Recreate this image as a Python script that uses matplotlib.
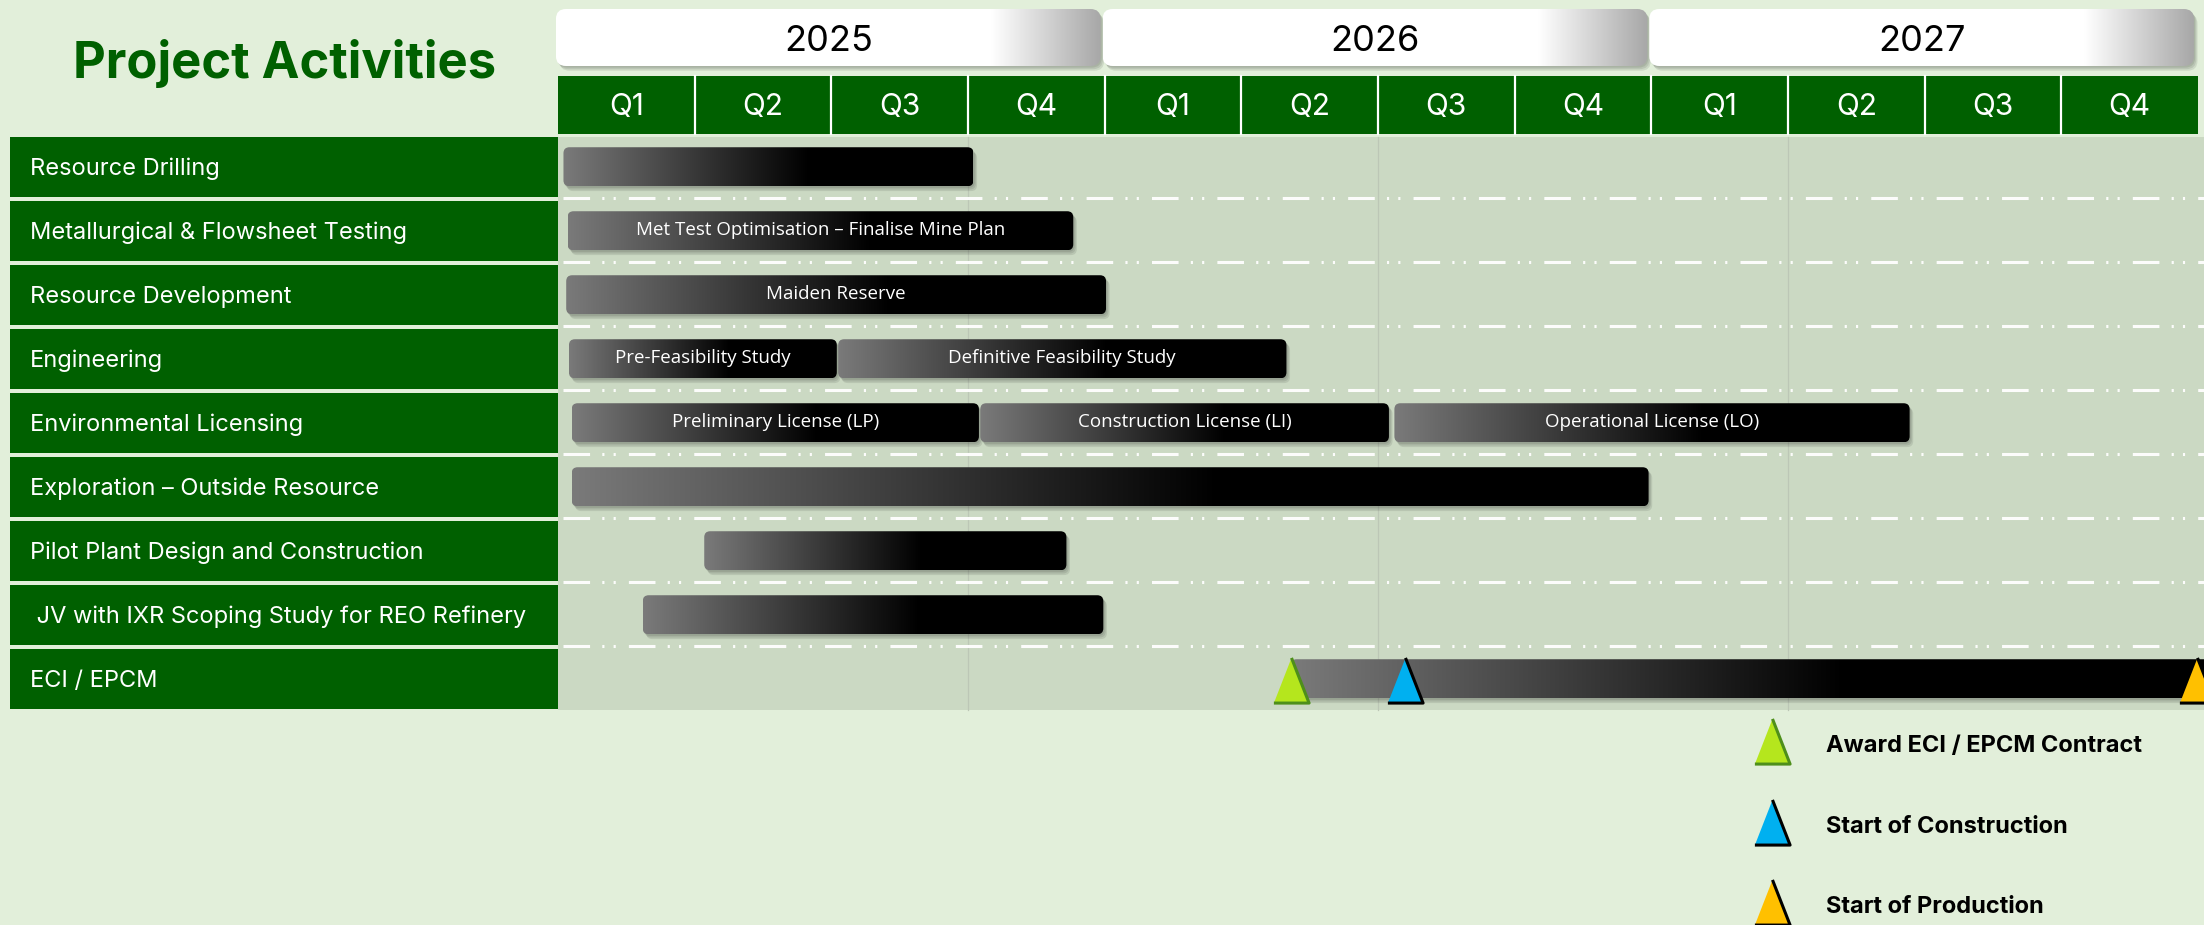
import matplotlib
matplotlib.use("Agg")
import matplotlib.pyplot as plt
import numpy as np
from matplotlib.patches import Rectangle, FancyBboxPatch
from matplotlib.colors import to_rgb

plt.rcParams["font.family"] = ["Inter", "DejaVu Sans"]

## chart data

TITLE = "Project Activities"
YEARS = ["2025", "2026", "2027"]
QUARTERS = ["Q1", "Q2", "Q3", "Q4"]
ACTIVITIES = [
    "Resource Drilling",
    "Metallurgical & Flowsheet Testing",
    "Resource Development",
    "Engineering",
    "Environmental Licensing",
    "Exploration – Outside Resource",
    "Pilot Plant Design and Construction",
    " JV with IXR Scoping Study for REO Refinery",
    "ECI / EPCM",
]

# one entry per bar: activity row, start and end in quarters counted from Q1 2025
BAR_ROW = [0, 1, 2, 3, 3, 4, 4, 4, 5, 6, 7, 8]
BAR_START = [0.04, 0.07, 0.06, 0.08, 2.05, 0.10, 3.09, 6.12, 0.10, 1.07, 0.62, 5.36]
BAR_END = [3.04, 3.77, 4.01, 2.04, 5.33, 3.08, 6.08, 9.89, 7.98, 3.72, 3.99, 12.10]
BAR_TEXT = [
    "",
    "Met Test Optimisation – Finalise Mine Plan",
    "Maiden Reserve",
    "Pre-Feasibility Study",
    "Definitive Feasibility Study",
    "Preliminary License (LP)",
    "Construction License (LI)",
    "Operational License (LO)",
    "",
    "",
    "",
    "",
]

MILESTONES = ["Award ECI / EPCM Contract", "Start of Construction", "Start of Production"]
MILESTONE_ROW = [8, 8, 8]
MILESTONE_AT = [5.36, 6.20, 11.99]

## styling / layout

BG = "#E2EFDA"
CHART_BG = "#CBD9C3"
GREEN = "#006000"
MS_FILL = ["#B5E61D", "#00B0F0", "#FFC000"]
MS_EDGE = ["#4E8F1A", "#000000", "#000000"]

W_PX, H_PX = 2204, 925
Q_PX = 1640 / 12      # width of one quarter
ROW_PX = 64           # row pitch
X0_PX, Y0_PX = 558, 137


def px_x(px):
    return (px - X0_PX) / Q_PX


def px_y(py):
    return (py - Y0_PX) / ROW_PX


fig = plt.figure(figsize=(W_PX / 100, H_PX / 100), dpi=100, facecolor=BG)
ax = fig.add_axes([0, 0, 1, 1])
ax.set_autoscale_on(False)
ax.set_xlim(px_x(0), px_x(W_PX))
ax.set_ylim(px_y(H_PX), px_y(0))
ax.axis("off")

ASPECT = Q_PX / ROW_PX
TRI = [(-0.39, -0.5), (0.39, -0.5), (0.0, 0.5)]


def gradient_box(x0, x1, y0, y1, pos, cols, radius_px, z, shadow=True):
    r = radius_px / Q_PX
    style = f"round,pad=0,rounding_size={r}"
    if shadow:
        for k in range(1, 4):
            sh = FancyBboxPatch((x0 + 1.2 * k / Q_PX, y0 + 1.6 * k / ROW_PX), x1 - x0, y1 - y0,
                                boxstyle=style, mutation_aspect=ASPECT,
                                facecolor="black", edgecolor="none", alpha=0.09, zorder=z - 0.5)
            ax.add_patch(sh)
    box = FancyBboxPatch((x0, y0), x1 - x0, y1 - y0, boxstyle=style, mutation_aspect=ASPECT,
                         facecolor="none", edgecolor="none", zorder=z)
    ax.add_patch(box)
    t = np.linspace(0, 1, 256)
    rgb = np.array([to_rgb(c) for c in cols])
    grad = np.empty((1, 256, 3))
    for c in range(3):
        grad[0, :, c] = np.interp(t, pos, rgb[:, c])
    im = ax.imshow(grad, extent=(x0, x1, y1, y0), aspect="auto", interpolation="bilinear", zorder=z)
    im.set_clip_path(box)


# title
ax.text(px_x(285), px_y(78), TITLE, ha="center", va="baseline", fontsize=36.5,
        fontweight="bold", color=GREEN)

# year boxes
for k, yr in enumerate(YEARS):
    gradient_box(4 * k - 0.015, 4 * k + 3.97, px_y(9), px_y(66), [0, 0.8, 1],
                 ["#FFFFFF", "#FFFFFF", "#A8A8A8"], 10, 3)
    ax.text(4 * k + 1.98, px_y(51), yr, ha="center", va="baseline", fontsize=26,
            color="black", zorder=5)

# quarter header
ax.add_patch(Rectangle((0, px_y(76)), 12, px_y(134) - px_y(76), facecolor=GREEN,
                       edgecolor="none", zorder=2))
for q in range(12):
    if q > 0:
        ax.plot([q, q], [px_y(76), px_y(134)], color="white", lw=1.6, zorder=3)
    ax.text(q + 0.5, px_y(115), QUARTERS[q % 4], ha="center", va="baseline", fontsize=21.5,
            color="white", zorder=4)

# chart area and activity labels
n_rows = len(ACTIVITIES)
ax.add_patch(Rectangle((0, 0), px_x(W_PX) + 0.1, px_y(710), facecolor=CHART_BG,
                       edgecolor="none", zorder=0))
for i, name in enumerate(ACTIVITIES):
    ax.add_patch(Rectangle((px_x(10), i), -px_x(10), 60 / ROW_PX, facecolor=GREEN,
                           edgecolor="none", zorder=1))
    ax.text(px_x(30), i + 0.6, name, ha="left", va="baseline", fontsize=17,
            color="white", zorder=4)

# faint vertical grid every three quarters
for g in [3, 6, 9]:
    ax.plot([g, g], [0, px_y(710)], color="#BCC7B6", lw=0.9, zorder=0.5)

# dash-dot-dot separators between rows
for i in range(n_rows - 1):
    ax.plot([0.04, px_x(W_PX)], [i + 0.96, i + 0.96], color="white", lw=2.2, alpha=0.95,
            ls=(0, (8.7, 4.0, 0.7, 3.0, 0.7, 4.3)), solid_capstyle="butt",
            dash_capstyle="butt", zorder=1)

# bars
for row, s, e, txt in zip(BAR_ROW, BAR_START, BAR_END, BAR_TEXT):
    gradient_box(s, e, row + 0.16, row + 0.77, [0, 0.6, 1],
                 ["#7A7A7A", "#000000", "#000000"], 6, 6)
    if txt:
        ax.text((s + e) / 2, row + 0.455, txt, ha="center", va="center", fontsize=13.5,
                family=["Open Sans", "DejaVu Sans"], color="white", zorder=8)

# milestones on the ECI / EPCM bar
for row, x, fc, ec in zip(MILESTONE_ROW, MILESTONE_AT, MS_FILL, MS_EDGE):
    ax.plot([x], [row + 0.48], ls="none", marker=TRI, ms=32.5, mfc=fc, mec=ec, mew=2.2,
            zorder=9, clip_on=False)

# legend
LEG_Y = [9.44, 10.71, 11.96]
for lab, y, fc, ec in zip(MILESTONES, LEG_Y, MS_FILL, MS_EDGE):
    ax.plot([px_x(1772)], [y], ls="none", marker=TRI, ms=32.5, mfc=fc, mec=ec, mew=2.2,
            zorder=9, clip_on=False)
    ax.text(px_x(1826), y + 0.07, lab, ha="left", va="center", fontsize=17,
            fontweight="bold", color="black", zorder=9)

fig.savefig("out.png", dpi=100, facecolor=BG)
